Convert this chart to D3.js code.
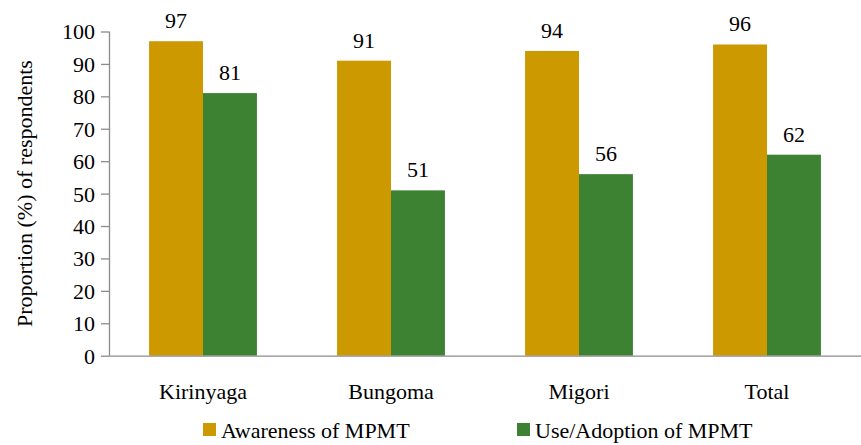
<!DOCTYPE html>
<html>
<head>
<meta charset="utf-8">
<script src="https://cdn.jsdelivr.net/npm/d3@7"></script>
</head>
<body style="margin:0;padding:0;background:#fff;">
<script>
const categories = ["Kirinyaga", "Bungoma", "Migori", "Total"];
const seriesNames = ["Awareness of MPMT", "Use/Adoption of MPMT"];
const awareness = [97, 91, 94, 96];
const adoption = [81, 51, 56, 62];
const yTicks = [0, 10, 20, 30, 40, 50, 60, 70, 80, 90, 100];
const colors = ["#CC9900", "#3D8133"];

const fam = ["Liberation Serif"];
const W = 861, H = 445;
const margin = { left: 109, right: 0, top: 31.5, bottom: 89.3 };
const svg = d3.select("body").append("svg").attr("width", W).attr("height", H)
  .style("display", "block");

const x0 = d3.scaleBand().domain(categories).range([margin.left, W - margin.right]).paddingInner(0).paddingOuter(0);
const x1 = d3.scaleBand().domain(seriesNames).range([0, x0.bandwidth()]).paddingInner(0).paddingOuter(0.743);
const y = d3.scaleLinear().domain([0, 100]).range([H - margin.bottom, margin.top]);

const series = [awareness, adoption];
const rows = categories.map((c, i) => ({ cat: c, vals: seriesNames.map((s, j) => ({ s, j, v: series[j][i] })) }));

// y axis
const yAxis = svg.append("g").attr("transform", `translate(${margin.left},0)`)
  .call(d3.axisLeft(y).tickValues(yTicks).tickSize(8).tickPadding(6).tickFormat(d3.format("d")));
yAxis.selectAll("path, line").attr("stroke", "#8c8c8c").attr("stroke-width", 1.3);
yAxis.select(".domain").attr("d", `M0.5,${y(100)}V${y(0)}`);
yAxis.selectAll("text").attr("fill", "#000").attr("dy", "0.34em");

// bars
const g = svg.append("g");
rows.forEach(r => {
  const gg = g.append("g").attr("transform", `translate(${x0(r.cat)},0)`);
  gg.selectAll("rect").data(r.vals).join("rect")
    .attr("x", d => x1(d.s)).attr("width", x1.bandwidth())
    .attr("y", d => y(d.v)).attr("height", d => y(0) - y(d.v))
    .attr("fill", d => colors[d.j]);
  gg.selectAll("text").data(r.vals).join("text")
    .attr("x", d => x1(d.s) + x1.bandwidth() / 2)
    .attr("y", d => y(d.v) - 13)
    .attr("text-anchor", "middle")
    .attr("fill", "#000")
    .text(d => d.v);
});

// x axis
const xAxis = svg.append("g").attr("transform", `translate(0,${y(0)})`)
  .call(d3.axisBottom(x0).tickSize(0).tickPadding(0));
xAxis.select(".domain").attr("stroke", "#8c8c8c").attr("stroke-width", 1.3).attr("d", `M${margin.left},0.5H${W}`);
xAxis.selectAll("text").attr("fill", "#000").attr("dy", null).attr("y", 43);

// y title
svg.append("text")
  .attr("transform", `translate(32,${(y(0) + y(100)) / 2}) rotate(-90)`)
  .attr("text-anchor", "middle")
  .attr("fill", "#000")
  .text("Proportion (%) of respondents");

// legend
const legendX = [203, 517];
const leg = svg.append("g");
seriesNames.forEach((s, j) => {
  leg.append("rect").attr("x", legendX[j]).attr("y", 423).attr("width", 13).attr("height", 13).attr("fill", colors[j]);
  leg.append("text").attr("x", legendX[j] + 18).attr("y", 438).attr("fill", "#000").text(s);
});

svg.selectAll("g").attr("font-family", null).attr("font-size", null);
svg.selectAll("text").data(d3.range(100)).attr("font-family", () => `"${fam[0]}"`).attr("font-size", 22);
</script>
</body>
</html>
